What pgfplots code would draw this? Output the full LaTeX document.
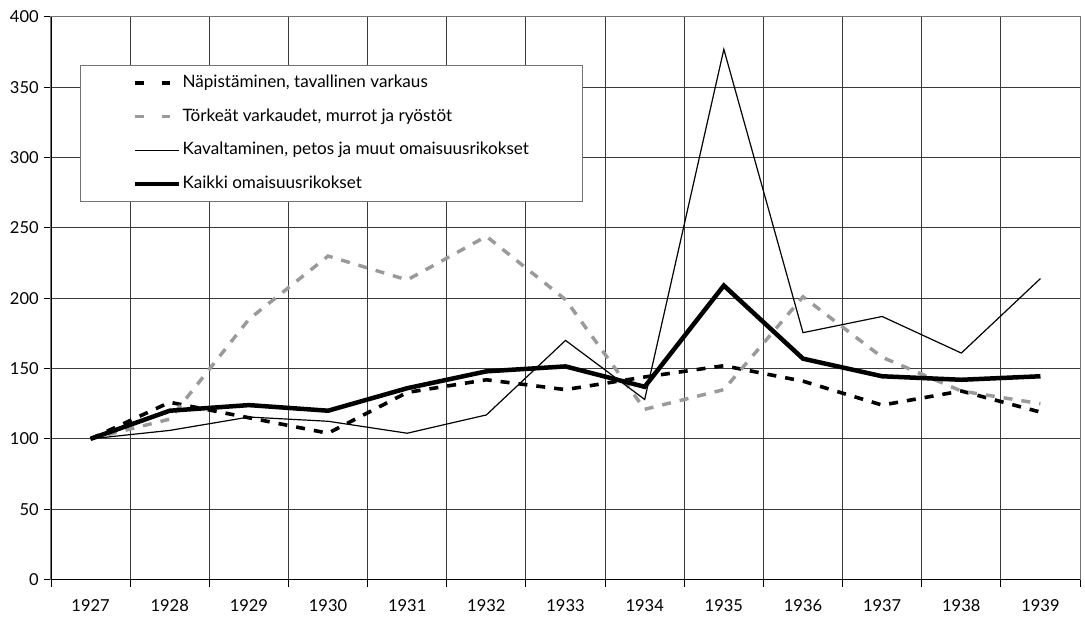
\documentclass[border=0pt]{standalone}
\usepackage{fontspec}
\setmainfont{Lato}
\usepackage{pgfplots}
\pgfplotsset{compat=1.18}
\definecolor{lightline}{HTML}{9A9A9A}
\definecolor{gridc}{HTML}{3A3A3A}
\pgfplotsset{
  dashlegend/.style={legend image code/.code={\draw[##1, dash pattern=on 5.5pt off 12pt] (0pt,0pt) -- (29pt,0pt);}},
}

\begin{document}
\begin{tikzpicture}
\begin{axis}[
  scale only axis,
  width=686pt, height=375pt,
  xmin=-0.5, xmax=12.5,
  ymin=0, ymax=400,
  xtick={0,1,2,3,4,5,6,7,8,9,10,11,12},
  xticklabels={1927,1928,1929,1930,1931,1932,1933,1934,1935,1936,1937,1938,1939},
  major x tick style={draw=none},
  minor xtick={-0.5,0.5,...,12.5},
  xminorgrids,
  ytick={0,50,...,400},
  ymajorgrids,
  grid style={gridc, line width=0.6pt},
  minor grid style={gridc, line width=0.6pt},
  tick align=outside,
  xtick pos=bottom, ytick pos=left,
  major tick length=4.7pt, minor tick length=4.7pt,
  tick style={black, line width=0.6pt},
  axis line style={black!55, line width=0.7pt},
  /pgf/number format/assume math mode=true,
  ticklabel style={font=\fontsize{11}{13}\selectfont},
  xticklabel style={yshift=-5pt},
  legend cell align=left,
  legend style={at={(rel axis cs:0.0282,0.915)}, anchor=north west,
    draw=black!55, line width=0.7pt, inner xsep=35pt, inner ysep=5.3pt,
    font=\fontsize{11.4}{13}\selectfont, row sep=9.4pt,
    nodes={inner sep=1pt, text height=8.5pt, text depth=2.5pt}},
  legend image code/.code={\draw[#1] (0pt,0pt) -- (29pt,0pt);},
]
\addplot[black, line width=2.4pt, dash pattern=on 6pt off 6pt, dashlegend]
  coordinates {(0,100) (1,126) (2,115) (3,104) (4,133) (5,142) (6,135) (7,144) (8,152) (9,141) (10,124) (11,134) (12,119)};
\addlegendentry{Näpistäminen, tavallinen varkaus}
\addplot[lightline, line width=2.3pt, dash pattern=on 6pt off 6pt, dashlegend]
  coordinates {(0,100) (1,114) (2,185) (3,230) (4,213) (5,244) (6,199) (7,121) (8,135) (9,201) (10,158) (11,134) (12,125)};
\addlegendentry{Törkeät varkaudet, murrot ja ryöstöt}
\addplot[black, line width=0.8pt]
  coordinates {(0,100) (1,106) (2,115.5) (3,112.5) (4,104) (5,117) (6,170) (7,128) (8,377) (9,175.5) (10,187) (11,161) (12,214)};
\addlegendentry{Kavaltaminen, petos ja muut omaisuusrikokset}
\addplot[black, line width=3pt]
  coordinates {(0,100) (1,120) (2,124) (3,120) (4,136) (5,148) (6,151.5) (7,137) (8,209) (9,157) (10,144.5) (11,142) (12,144.5)};
\addlegendentry{Kaikki omaisuusrikokset}
\draw[black, line width=0.7pt] (rel axis cs:0,1) -- (rel axis cs:0,0) -- (rel axis cs:1,0);
\end{axis}
\path (current axis.south west) ++(-34pt,-29.3pt);
\path (current axis.north east) ++(3.3pt,11.3pt);
\end{tikzpicture}
\end{document}
